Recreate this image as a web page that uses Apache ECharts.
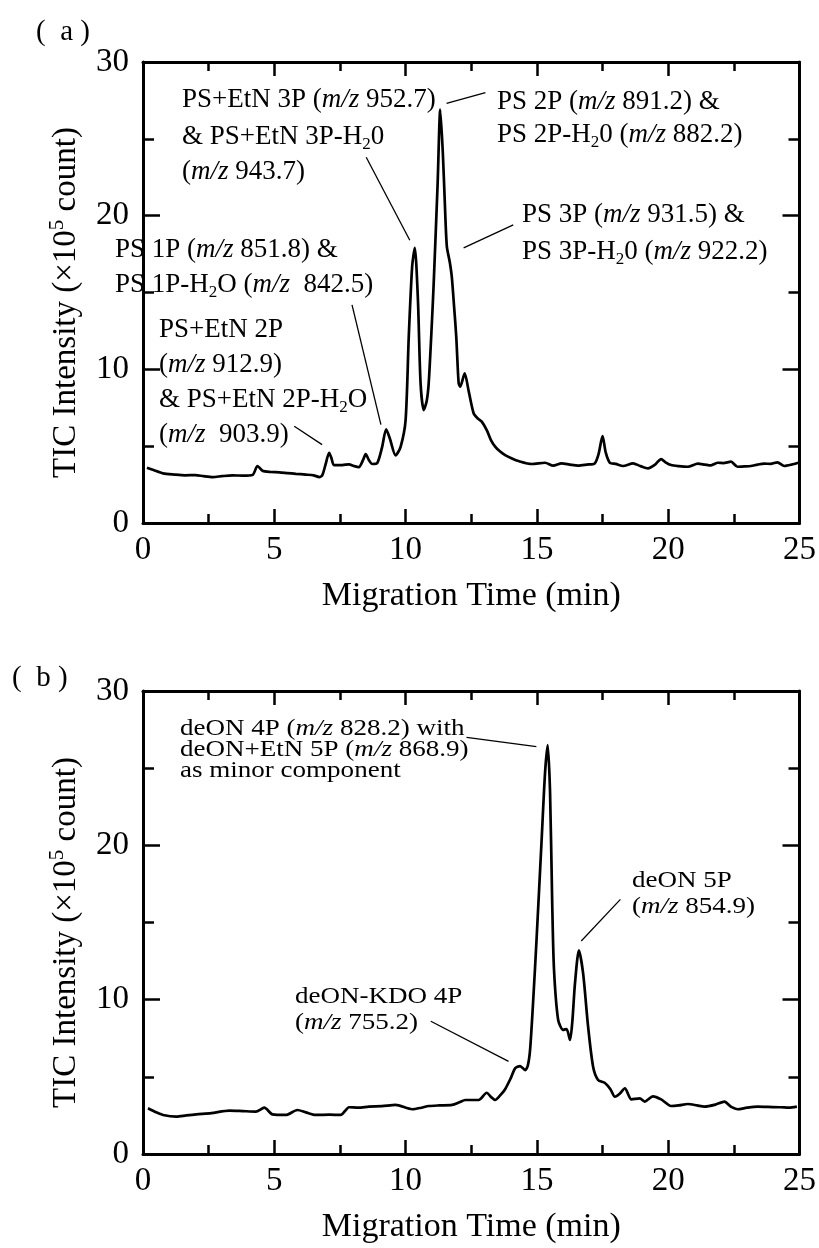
<!DOCTYPE html>
<html>
<head>
<meta charset="utf-8">
<script src="https://cdn.jsdelivr.net/npm/echarts@6/dist/echarts.min.js"></script>
<style>
html, body { margin: 0; padding: 0; background: #fff; }
#chart { width: 819px; height: 1248px; }
</style>
</head>
<body>
<div id="chart"></div>
<script>
// (a) PS sample trace
const timeA = [0.15, 0.4, 0.76, 1.2, 1.6, 2.0, 2.3, 2.66, 3.0, 3.4, 3.8, 4.17, 4.36, 4.55, 4.85, 5.19, 5.5, 5.82, 6.2, 6.5,
  6.71, 6.83, 6.95, 7.09, 7.18, 7.27, 7.59, 7.84, 8.05, 8.22, 8.38, 8.48, 8.6, 8.73, 8.92, 9.1, 9.26, 9.4, 9.62, 9.81,
  10.0, 10.12, 10.25, 10.35, 10.47, 10.57, 10.69, 10.8, 10.88, 11.0, 11.07, 11.22, 11.32, 11.42, 11.49, 11.57, 11.68, 11.76, 11.85, 11.93,
  12.02, 12.08, 12.25, 12.4, 12.59, 12.75, 12.9, 13.09, 13.25, 13.41, 13.6, 13.79, 14.05, 14.3, 14.8, 15.31, 15.62, 15.94, 16.25, 16.57,
  16.9, 17.2, 17.35, 17.5, 17.62, 17.78, 18.0, 18.28, 18.66, 18.95, 19.23, 19.5, 19.73, 19.9, 20.11, 20.4, 20.75, 21.13, 21.4, 21.63,
  21.89, 22.1, 22.39, 22.64, 22.9, 23.15, 23.4, 23.66, 23.9, 24.16, 24.42, 24.7, 24.95];
const intensityA = [3.6, 3.45, 3.23, 3.15, 3.1, 3.12, 3.05, 2.99, 3.05, 3.1, 3.08, 3.12, 3.71, 3.4, 3.32, 3.3, 3.25, 3.2, 3.15, 3.1,
  2.99, 3.12, 3.8, 4.57, 4.2, 3.77, 3.77, 3.82, 3.7, 3.64, 4.1, 4.49, 4.1, 3.84, 3.9, 4.9, 6.1, 5.5, 4.4, 4.96,
  6.7, 12.1, 16.7, 17.9, 14.5, 9.1, 7.35, 7.9, 9.1, 13.0, 15.6, 22.1, 26.9, 24.0, 21.0, 18.0, 17.0, 16.0, 14.0, 12.1,
  9.1, 8.87, 9.74, 8.6, 7.14, 6.8, 6.6, 6.05, 5.4, 4.97, 4.65, 4.42, 4.2, 4.03, 3.84, 3.92, 3.73, 3.88, 3.8, 3.73,
  3.8, 3.88, 4.5, 5.66, 4.6, 3.92, 3.85, 3.71, 3.88, 3.7, 3.56, 3.8, 4.16, 3.95, 3.77, 3.7, 3.66, 3.86, 3.8, 3.75,
  3.92, 3.9, 3.99, 3.66, 3.68, 3.71, 3.8, 3.86, 3.85, 3.95, 3.71, 3.8, 3.92];

// (b) deON sample trace
const timeB = [0.19, 0.5, 0.76, 1.27, 1.65, 2.03, 2.6, 3.29, 3.8, 4.3, 4.62, 4.93, 5.44, 5.88, 6.2, 6.58, 7.1, 7.53, 7.7, 7.84,
  8.2, 8.6, 9.1, 9.62, 10.25, 10.6, 10.88, 11.3, 11.77, 12.05, 12.27, 12.78, 13.09, 13.25, 13.41, 13.6, 13.79, 14.0, 14.17, 14.36,
  14.55, 14.65, 14.74, 14.86, 14.99, 15.18, 15.31, 15.41, 15.5, 15.58, 15.65, 15.81, 16.0, 16.13, 16.26, 16.35, 16.45, 16.6, 16.76, 16.95,
  17.14, 17.33, 17.59, 17.8, 17.97, 18.15, 18.35, 18.6, 18.92, 19.1, 19.42, 19.73, 20.11, 20.4, 20.75, 21.1, 21.38, 21.8, 22.14, 22.4,
  22.64, 23.0, 23.4, 23.8, 24.29, 24.6, 24.9];
const intensityB = [2.96, 2.7, 2.53, 2.42, 2.5, 2.57, 2.65, 2.81, 2.78, 2.75, 3.0, 2.57, 2.53, 2.85, 2.7, 2.53, 2.55, 2.53, 2.8, 3.03,
  3.0, 3.07, 3.1, 3.18, 2.9, 3.0, 3.11, 3.15, 3.18, 3.35, 3.5, 3.5, 3.97, 3.7, 3.5, 3.8, 4.2, 4.9, 5.55, 5.7,
  5.44, 5.7, 6.74, 9.98, 14.0, 20.35, 24.7, 26.5, 23.5, 16.5, 12.0, 8.68, 8.04, 8.1, 7.39, 8.6, 11.06, 13.2, 11.7, 8.25,
  5.66, 4.8, 4.6, 4.2, 3.71, 3.9, 4.26, 3.54, 3.6, 3.4, 3.74, 3.54, 3.11, 3.15, 3.24, 3.15, 3.07, 3.2, 3.39, 3.05,
  2.9, 3.0, 3.07, 3.05, 3.03, 3.0, 3.07];

// leader lines [t1, v1, t2, v2] in data units
const leadersA = [[8.5, 23.8, 10.16, 18.4], [11.56, 27.3, 13.04, 28.0], [12.21, 17.9, 14.1, 19.4],
  [7.96, 14.2, 9.06, 6.4], [5.76, 6.3, 6.82, 5.1]];
const leadersB = [[12.32, 27.0, 14.98, 26.4], [18.18, 16.5, 16.69, 13.8], [10.96, 8.6, 13.92, 6.0]];

const serif = '"Liberation Serif", "Times New Roman", serif';
const black = '#000';

function pairs(xs, ys) {
  return xs.map((x, i) => [x, ys[i]]);
}

function xAxes(grid) {
  const base = {
    gridIndex: grid, type: 'value', min: 0, max: 25, interval: 5,
    axisLine: { onZero: false, lineStyle: { color: black, width: 3 } },
    axisTick: { inside: true, length: 14, lineStyle: { color: black, width: 2.5 } },
    minorTick: { show: true, splitNumber: 2, length: 9, lineStyle: { color: black, width: 2.5 } },
    splitLine: { show: false }
  };
  return [
    Object.assign({}, base, {
      position: 'bottom',
      axisLabel: { color: black, fontFamily: serif, fontSize: 33, margin: 11 },
      name: 'Migration Time (min)', nameLocation: 'middle', nameGap: 56,
      nameTextStyle: { color: black, fontFamily: serif, fontSize: 34 }
    }),
    Object.assign({}, base, { position: 'top', axisLabel: { show: false } })
  ];
}

function yAxes(grid) {
  const base = {
    gridIndex: grid, type: 'value', min: 0, max: 30, interval: 10,
    axisLine: { onZero: false, lineStyle: { color: black, width: 3 } },
    axisTick: { inside: true, length: 17, lineStyle: { color: black, width: 2.5 } },
    minorTick: { show: true, splitNumber: 2, length: 11, lineStyle: { color: black, width: 2.5 } },
    splitLine: { show: false }
  };
  return [
    Object.assign({}, base, {
      position: 'left',
      axisLabel: { color: black, fontFamily: serif, fontSize: 33, margin: 14 },
      name: 'TIC Intensity (×10{sup|5} count)', nameLocation: 'middle', nameGap: 58,
      nameTextStyle: {
        color: black, fontFamily: serif, fontSize: 33, lineHeight: 38, padding: [0, 20, 0, 0],
        rich: { sup: { fontFamily: serif, fontSize: 21, verticalAlign: 'top', lineHeight: 20 } }
      }
    }),
    Object.assign({}, base, { position: 'right', axisLabel: { show: false } })
  ];
}

function note(x, y, text, size, stretch) {
  return {
    type: 'text', x: x, y: y, scaleX: stretch || 1, silent: true,
    style: {
      text: text, fill: black, fontFamily: serif, fontSize: size, lineHeight: Math.round(size * 1.2),
      verticalAlign: 'middle',
      rich: {
        i: { fontFamily: serif, fontSize: size, fontStyle: 'italic', lineHeight: Math.round(size * 1.2) },
        s: { fontFamily: serif, fontSize: Math.round(size * 0.62), verticalAlign: 'bottom', lineHeight: Math.round(size * 0.6) }
      }
    }
  };
}

function trace(idx, data, leaders) {
  return {
    type: 'line', xAxisIndex: idx * 2, yAxisIndex: idx * 2, data: data,
    showSymbol: false, smooth: 0.25, animation: false,
    lineStyle: { color: black, width: 2.7 },
    markLine: {
      silent: true, symbol: ['none', 'none'], animation: false,
      label: { show: false },
      lineStyle: { color: black, width: 1.3, type: 'solid' },
      data: leaders.map(l => [{ coord: [l[0], l[1]] }, { coord: [l[2], l[3]] }])
    }
  };
}

const fa = 27, fb = 23.5, sb = 1.15;
const notes = [
  note(182, 100, 'PS+EtN 3P ({i|m/z} 952.7)', fa),
  note(182, 137, '& PS+EtN 3P-H{s|2}0', fa),
  note(182, 172, '({i|m/z} 943.7)', fa),
  note(497, 102, 'PS 2P ({i|m/z} 891.2) &', fa),
  note(497, 135, 'PS 2P-H{s|2}0 ({i|m/z} 882.2)', fa),
  note(522, 215, 'PS 3P ({i|m/z} 931.5) &', fa),
  note(522, 252, 'PS 3P-H{s|2}0 ({i|m/z} 922.2)', fa),
  note(115, 250, 'PS 1P ({i|m/z} 851.8) &', fa),
  note(115, 285, 'PS 1P-H{s|2}O ({i|m/z}  842.5)', fa),
  note(159, 330, 'PS+EtN 2P', fa),
  note(159, 365, '({i|m/z} 912.9)', fa),
  note(159, 400, '& PS+EtN 2P-H{s|2}O', fa),
  note(159, 435, '({i|m/z}  903.9)', fa),
  note(180, 729, 'deON 4P ({i|m/z} 828.2) with', fb, sb),
  note(180, 750, 'deON+EtN 5P ({i|m/z} 868.9)', fb, sb),
  note(180, 771, 'as minor component', fb, sb),
  note(632, 881, 'deON 5P', fb, sb),
  note(632, 907, '({i|m/z} 854.9)', fb, sb),
  note(295, 997, 'deON-KDO 4P', fb, sb),
  note(295, 1023, '({i|m/z} 755.2)', fb, sb),
  { type: 'text', x: 36, y: 32, silent: true,
    style: { text: '(  a )', fill: black, fontFamily: serif, fontSize: 29, verticalAlign: 'middle' } },
  { type: 'text', x: 12, y: 678, silent: true,
    style: { text: '(  b )', fill: black, fontFamily: serif, fontSize: 29, verticalAlign: 'middle' } }
];

const chart = echarts.init(document.getElementById('chart'));
chart.setOption({
  animation: false,
  backgroundColor: '#fff',
  grid: [
    { left: 143, top: 62, width: 659, height: 461 },
    { left: 143, top: 691, width: 659, height: 463 }
  ],
  xAxis: xAxes(0).concat(xAxes(1)),
  yAxis: yAxes(0).concat(yAxes(1)),
  series: [
    trace(0, pairs(timeA, intensityA), leadersA),
    trace(1, pairs(timeB, intensityB), leadersB)
  ],
  graphic: notes
});
</script>
</body>
</html>
